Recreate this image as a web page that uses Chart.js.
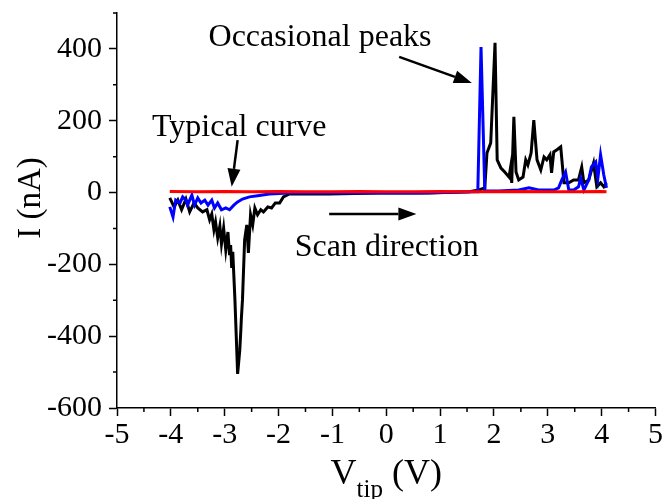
<!DOCTYPE html>
<html>
<head>
<meta charset="utf-8">
<script src="https://cdn.jsdelivr.net/npm/chart.js@4.4.1/dist/chart.umd.min.js"></script>
<style>
  html, body { margin: 0; padding: 0; background: #fff; }
  #wrap { width: 664px; height: 499px; }
</style>
</head>
<body>
<div id="wrap"><canvas id="iv-chart"></canvas></div>
<script>
// black curve (large dip and peaks)
const blackV = [-4.02, -3.94, -3.87, -3.80, -3.72, -3.65, -3.57, -3.50, -3.41, -3.33, -3.28, -3.24, -3.20, -3.17, -3.13, -3.09, -3.06, -3.02, -2.98, -2.94, -2.91, -2.89, -2.87, -2.85, -2.81, -2.76, -2.72, -2.70, -2.69, -2.67, -2.63, -2.59, -2.56, -2.52, -2.48, -2.44, -2.39, -2.33, -2.28, -2.20, -2.13, -2.06, -1.98, -1.91, -1.80, -1.61, -1.06, -0.13, 0.80, 1.54, 1.72, 1.83, 1.87, 1.94, 2.02, 2.06, 2.13, 2.20, 2.28, 2.31, 2.33, 2.37, 2.41, 2.46, 2.54, 2.59, 2.63, 2.69, 2.74, 2.80, 2.87, 2.93, 2.98, 3.04, 3.07, 3.11, 3.17, 3.24, 3.30, 3.39, 3.48, 3.57, 3.63, 3.67, 3.76, 3.85, 3.91, 3.98, 4.04, 4.09];
const blackI = [-15, -40, -21, -48, -18, -54, -29, -43, -54, -48, -76, -60, -104, -82, -126, -93, -143, -99, -160, -110, -174, -146, -210, -165, -299, -505, -439, -382, -349, -299, -132, -90, -168, -62, -90, -43, -62, -48, -54, -40, -43, -29, -29, -12, -4, -4, -4, -1, -1, 2, 7, 13, 110, 138, 417, 91, 68, 57, 43, 71, 27, 211, 57, 35, 43, 91, 77, 110, 202, 91, 63, 99, 91, 105, 55, 113, 119, 127, 27, 27, 35, 35, 71, 27, 35, 82, 16, 27, 16, 27];

// blue curve
const blueV = [-4.02, -3.96, -3.91, -3.83, -3.78, -3.72, -3.69, -3.61, -3.56, -3.50, -3.44, -3.37, -3.31, -3.24, -3.19, -3.13, -3.06, -2.98, -2.91, -2.83, -2.76, -2.67, -2.54, -2.39, -2.17, -1.80, -0.69, 0.61, 1.63, 1.70, 1.76, 1.83, 2.09, 2.46, 2.65, 2.83, 3.11, 3.20, 3.26, 3.33, 3.39, 3.48, 3.57, 3.61, 3.67, 3.76, 3.81, 3.89, 3.93, 3.98, 4.04, 4.09];
const blueI = [-40, -68, -21, -29, -12, -21, -35, -7, -35, -15, -29, -21, -35, -21, -43, -29, -48, -43, -48, -35, -26, -18, -12, -9, -4, -1, -1, -1, 2, 2, 405, 4, 4, 7, 13, 7, 7, 13, 35, 57, 7, 7, 16, 40, 7, 35, 71, 85, 40, 105, 49, 13];

// red "typical" curve
const redV = [-4.02, -3.5, -3.0, -2.5, -2.0, -1.5, -1.0, -0.5, 0, 0.5, 1.0, 1.5, 2.0, 2.5, 3.0, 3.5, 4.0, 4.09];
const redI = [3, 2, 3, 2, 3, 2, 2, 3, 2, 2, 3, 2, 2, 3, 2, 2, 3, 2];

const xTicks = [-5, -4, -3, -2, -1, 0, 1, 2, 3, 4, 5];
const yTicks = [-600, -400, -200, 0, 200, 400];

const zip = (xs, ys) => xs.map((x, i) => ({ x: x, y: ys[i] }));

const serif = "'Liberation Serif', 'DejaVu Serif', serif";

function arrow(ctx, x1, y1, x2, y2) {
  const ang = Math.atan2(y2 - y1, x2 - x1);
  const hl = 18, hw = 6.5;
  const bx = x2 - hl * Math.cos(ang), by = y2 - hl * Math.sin(ang);
  ctx.beginPath();
  ctx.moveTo(x1, y1);
  ctx.lineTo(bx, by);
  ctx.stroke();
  ctx.beginPath();
  ctx.moveTo(x2, y2);
  ctx.lineTo(bx + hw * Math.sin(ang), by - hw * Math.cos(ang));
  ctx.lineTo(bx - hw * Math.sin(ang), by + hw * Math.cos(ang));
  ctx.closePath();
  ctx.fill();
}

// minor ticks, annotations and axis titles
const extras = {
  id: 'extras',
  afterDraw(chart) {
    const ctx = chart.ctx;
    const xs = chart.scales.x, ys = chart.scales.y;
    const area = chart.chartArea;
    ctx.save();
    ctx.strokeStyle = '#000';
    ctx.fillStyle = '#000';
    ctx.lineWidth = 1.5;

    // minor ticks
    ctx.beginPath();
    for (let v = -4.5; v < 5; v += 1) {
      const px = xs.getPixelForValue(v);
      ctx.moveTo(px, area.bottom);
      ctx.lineTo(px, area.bottom + 4);
    }
    for (let v = -500; v <= 500; v += 200) {
      const py = ys.getPixelForValue(v);
      ctx.moveTo(area.left, py);
      ctx.lineTo(area.left - 4, py);
    }
    ctx.stroke();

    // annotations
    const P = (x, y) => [xs.getPixelForValue(x), ys.getPixelForValue(y)];
    ctx.font = '32px ' + serif;
    ctx.textBaseline = 'alphabetic';
    ctx.textAlign = 'left';
    let p = P(-3.30, 408); ctx.fillText('Occasional peaks', p[0], p[1]);
    p = P(-4.35, 157); ctx.fillText('Typical curve', p[0], p[1]);
    p = P(-1.70, -177); ctx.fillText('Scan direction', p[0], p[1]);

    ctx.lineWidth = 2.5;
    let a = P(0.24, 378), b = P(1.59, 305); arrow(ctx, a[0], a[1], b[0], b[1]);
    a = P(-2.76, 146); b = P(-2.87, 16); arrow(ctx, a[0], a[1], b[0], b[1]);
    a = P(-1.06, -60); b = P(0.56, -60); arrow(ctx, a[0], a[1], b[0], b[1]);

    // y title
    ctx.save();
    ctx.translate(40, 198);
    ctx.rotate(-Math.PI / 2);
    ctx.textAlign = 'center';
    ctx.font = '33px ' + serif;
    ctx.fillText('I (nA)', 0, 0);
    ctx.restore();

    // x title with subscript
    const big = '36px ' + serif, small = '25px ' + serif;
    ctx.font = big; const wV = ctx.measureText('V').width;
    const wR = ctx.measureText(' (V)').width;
    ctx.font = small; const wS = ctx.measureText('tip').width;
    let x0 = (area.left + area.right) / 2 - (wV + wS + wR) / 2;
    const base = 484;
    ctx.textAlign = 'left';
    ctx.font = big; ctx.fillText('V', x0, base);
    ctx.font = small; ctx.fillText('tip', x0 + wV, base + 13);
    ctx.font = big; ctx.fillText(' (V)', x0 + wV + wS, base);
    ctx.restore();
  }
};

new Chart(document.getElementById('iv-chart'), {
  type: 'scatter',
  data: {
    datasets: [
      {
        label: 'typical',
        data: zip(redV, redI),
        showLine: true,
        borderColor: '#ff0000',
        borderWidth: 3,
        pointRadius: 0,
      },
      {
        label: 'blue',
        data: zip(blueV, blueI),
        showLine: true,
        borderColor: '#0000ff',
        borderWidth: 3,
        pointRadius: 0,
      },
      {
        label: 'black',
        data: zip(blackV, blackI),
        showLine: true,
        borderColor: '#000000',
        borderWidth: 3,
        pointRadius: 0,
      },
    ],
  },
  options: {
    responsive: true,
    maintainAspectRatio: false,
    animation: false,
    layout: { padding: { left: 0, right: 7, top: 13, bottom: 0 } },
    plugins: {
      legend: { display: false },
      tooltip: { enabled: false },
    },
    scales: {
      x: {
        type: 'linear',
        min: -5,
        max: 5,
        afterBuildTicks: (s) => { s.ticks = xTicks.map((v) => ({ value: v })); },
        afterFit: (s) => { s.height = 91; },
        grid: { drawOnChartArea: false, tickLength: 8, tickWidth: 1.5, tickColor: '#000' },
        border: { color: '#000', width: 1.5 },
        ticks: { color: '#000', font: { family: serif, size: 30 }, padding: 1, maxRotation: 0 },
      },
      y: {
        min: -600,
        max: 500,
        afterBuildTicks: (s) => { s.ticks = yTicks.map((v) => ({ value: v })); },
        afterFit: (s) => { s.width = 117; s.paddingTop = 0; s.paddingBottom = 0; },
        grid: { drawOnChartArea: false, tickLength: 8, tickWidth: 1.5, tickColor: '#000' },
        border: { color: '#000', width: 1.5 },
        ticks: { color: '#000', font: { family: serif, size: 30 }, padding: 7 },
      },
    },
  },
  plugins: [extras],
});
</script>
</body>
</html>
